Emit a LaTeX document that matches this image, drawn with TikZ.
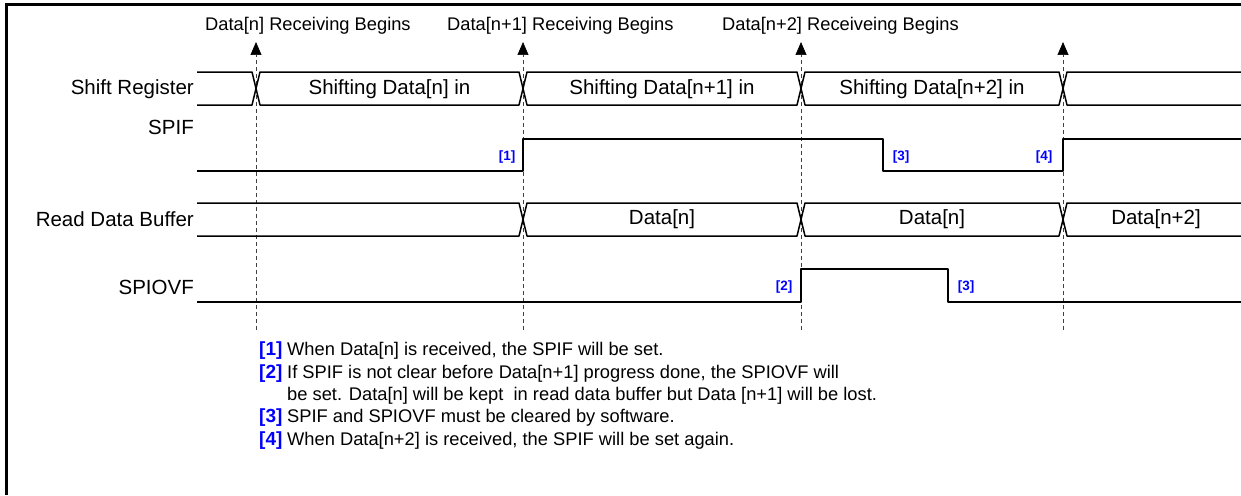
\documentclass[tikz,border=0pt]{standalone}
\usepackage{fontspec}
\setmainfont{Liberation Sans}
\usepackage{xcolor}
\usepackage{tikz}
\usetikzlibrary{arrows.meta}

\begin{document}
\begin{tikzpicture}[x=1pt,y=-1pt,
        wave/.style={line width=1.5pt, line join=round},
        guide/.style={dash pattern=on 4pt off 3pt, line width=0.7pt, black!75},
        signame/.style={anchor=east, inner sep=0pt, font=\fontsize{20.5}{24}\selectfont},
        bustext/.style={inner sep=0pt, font=\fontsize{20.5}{24}\selectfont},
        toplabel/.style={anchor=west, inner sep=0pt, font=\fontsize{18.3}{22}\selectfont},
        tag/.style={inner sep=0pt, text=noteblue, font=\fontsize{13.5}{15}\selectfont\bfseries},
        notetag/.style={anchor=west, inner sep=0pt, text=noteblue, font=\fontsize{19}{22}\selectfont\bfseries},
        notetext/.style={anchor=west, inner sep=0pt, font=\fontsize{18.3}{22}\selectfont}]
        % Define colors
        \definecolor{noteblue}{RGB}{0,0,255}

        \useasboundingbox (0,0) rectangle (1241,495);

        % Frame
        \draw[line width=3pt] (6.5,495) -- (6.5,4.5) -- (1241,4.5);

        % Guide lines with arrows
        \foreach \t [count=\k] in {256,523,801,1063} {
                \coordinate (e\k) at (\t,42);
                \draw[guide, -{Triangle[width=11pt,length=13pt,color=black,fill=black]}] (\t,330) -- (e\k);
            }

        % Top labels
        \node[toplabel] (beginA) at (205,26) {Data[n] Receiving Begins};
        \node[toplabel] (beginB) at (447,26) {Data[n+1] Receiving Begins};
        \node[toplabel] (beginC) at (722,26) {Data[n+2] Receiveing Begins};

        % Signal names
        \node[signame] (shiftreg) at (194,89) {Shift Register};
        \node[signame] (spif) at (194,127) {SPIF};
        \node[signame] (rdbuf) at (194,219) {Read Data Buffer};
        \node[signame] (spiovf) at (194,287) {SPIOVF};

        % Shift Register bus
        \draw[wave] (197,72) -- (252,72) -- (260,105) -- (519,105) -- (527,72) -- (797,72) -- (805,105) -- (1059,105) -- (1067,72) -- (1241,72);
        \draw[wave] (197,105) -- (252,105) -- (260,72) -- (519,72) -- (527,105) -- (797,105) -- (805,72) -- (1059,72) -- (1067,105) -- (1241,105);
        \node[bustext] (shiftA) at (389.5,89) {Shifting Data[n] in};
        \node[bustext] (shiftB) at (662,89) {Shifting Data[n+1] in};
        \node[bustext] (shiftC) at (932,89) {Shifting Data[n+2] in};

        % SPIF
        \draw[wave] (197,171) -- (523,171) -- (523,139) -- (883,139) -- (883,171) -- (1063,171) -- (1063,139) -- (1241,139);

        % Read Data Buffer bus
        \draw[wave] (197,203) -- (519,203) -- (527,236) -- (797,236) -- (805,203) -- (1059,203) -- (1067,236) -- (1241,236);
        \draw[wave] (197,236) -- (519,236) -- (527,203) -- (797,203) -- (805,236) -- (1059,236) -- (1067,203) -- (1241,203);
        \node[bustext] (bufA) at (662,219) {Data[n]};
        \node[bustext] (bufB) at (932,219) {Data[n]};
        \node[bustext] (bufC) at (1156,219) {Data[n+2]};

        % SPIOVF
        \draw[wave] (197,302) -- (801,302) -- (801,269) -- (948,269) -- (948,302) -- (1241,302);

        % Event tags
        \node[tag] (tagA) at (507,157) {[1]};
        \node[tag] (tagB) at (901,157) {[3]};
        \node[tag] (tagC) at (1044,157) {[4]};
        \node[tag] (tagD) at (784,287) {[2]};
        \node[tag] (tagE) at (966,287) {[3]};

        % Notes
        \node[notetag] (noteA) at (259,351) {[1]};
        \node[notetext] (textA) at (287,351) {When Data[n] is received, the SPIF will be set.};
        \node[notetag] (noteB) at (259,374) {[2]};
        \node[notetext] (textB) at (287,374) {If SPIF is not clear before Data[n+1] progress done, the SPIOVF will};
        \node[notetext] (textBB) at (287,396) {be set. Data[n] will be kept~ in read data buffer but Data [n+1] will be lost.};
        \node[notetag] (noteC) at (259,418) {[3]};
        \node[notetext] (textC) at (287,418) {SPIF and SPIOVF must be cleared by software.};
        \node[notetag] (noteD) at (259,441) {[4]};
        \node[notetext] (textD) at (287,441) {When Data[n+2] is received, the SPIF will be set again.};

    \end{tikzpicture}
\end{document}
